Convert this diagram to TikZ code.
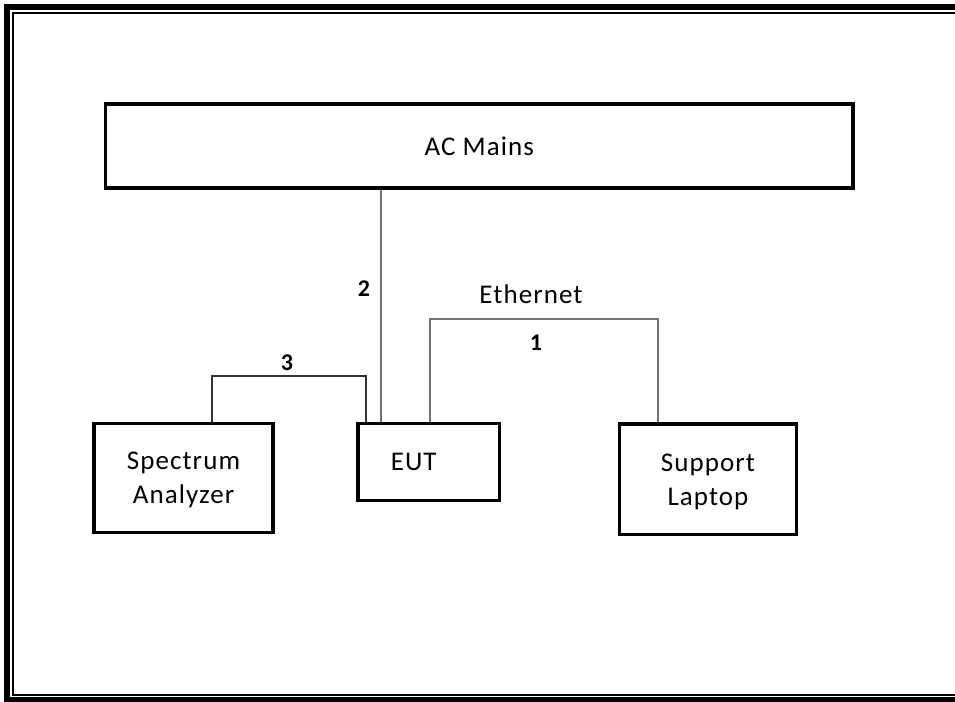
\documentclass[tikz,border=0pt]{standalone}
\usepackage{fontspec}
\setmainfont{Carlito}[LetterSpace=4]
\begin{document}
\begin{tikzpicture}[x=1pt,y=-1pt,
  box/.style={draw=black, line width=3.5pt, rectangle, align=center, inner sep=0pt,
    font=\fontsize{27pt}{34pt}\selectfont},
  txt/.style={inner sep=0pt, font=\fontsize{27pt}{34pt}\selectfont},
  num/.style={inner sep=0pt, font=\bfseries\fontsize{24pt}{28pt}\selectfont},
  wireA/.style={draw=black!55, line width=2.5pt},
  wireB/.style={draw=black!55, line width=2pt},
  wireC/.style={draw=black!80, line width=2pt}]
\useasboundingbox (0,0) rectangle (955,701);
\clip (0,0) rectangle (955,701);
% frame
\draw[line width=6pt] (7,7) rectangle (970,700);
\draw[line width=2pt] (13,13) rectangle (965,695);
% boxes
\node[box, minimum width=747.5pt, minimum height=84pt] (ac) at (479.25,146) {AC Mains};
\node[box, minimum width=179pt, minimum height=109pt, text depth=0pt] (sa) at (183.5,478) {Spectrum\\Analyzer};
\node[box, minimum width=141.5pt, minimum height=77pt] (eut) at (428.75,462) {EUT\hspace*{30pt}};
\node[box, minimum width=177pt, minimum height=110.5pt, text depth=0pt] (lap) at (708,479.25) {Support\\Laptop};
% routing points
\coordinate (c2) at (381,0);
\coordinate (c3a) at (211.5,376);
\coordinate (c3b) at (366,376);
\coordinate (c1a) at (429.5,319);
\coordinate (c1b) at (658,319);
% connectors
\draw[wireA] (ac.south -| c2) -- (eut.north -| c2);
\draw[wireC] (sa.north -| c3a) -- (c3a) -- (c3b) -- (eut.north -| c3b);
\draw[wireB] (eut.north -| c1a) -- (c1a) -- (c1b) -- (lap.north -| c1b);
% labels
\node[txt, anchor=base] (eth) at (531,303) {Ethernet};
\node[num, anchor=base] (n1) at (536,350) {1};
\node[num, anchor=base] (n2) at (364,296) {2};
\node[num, anchor=base] (n3) at (287,370) {3};
\end{tikzpicture}
\end{document}
